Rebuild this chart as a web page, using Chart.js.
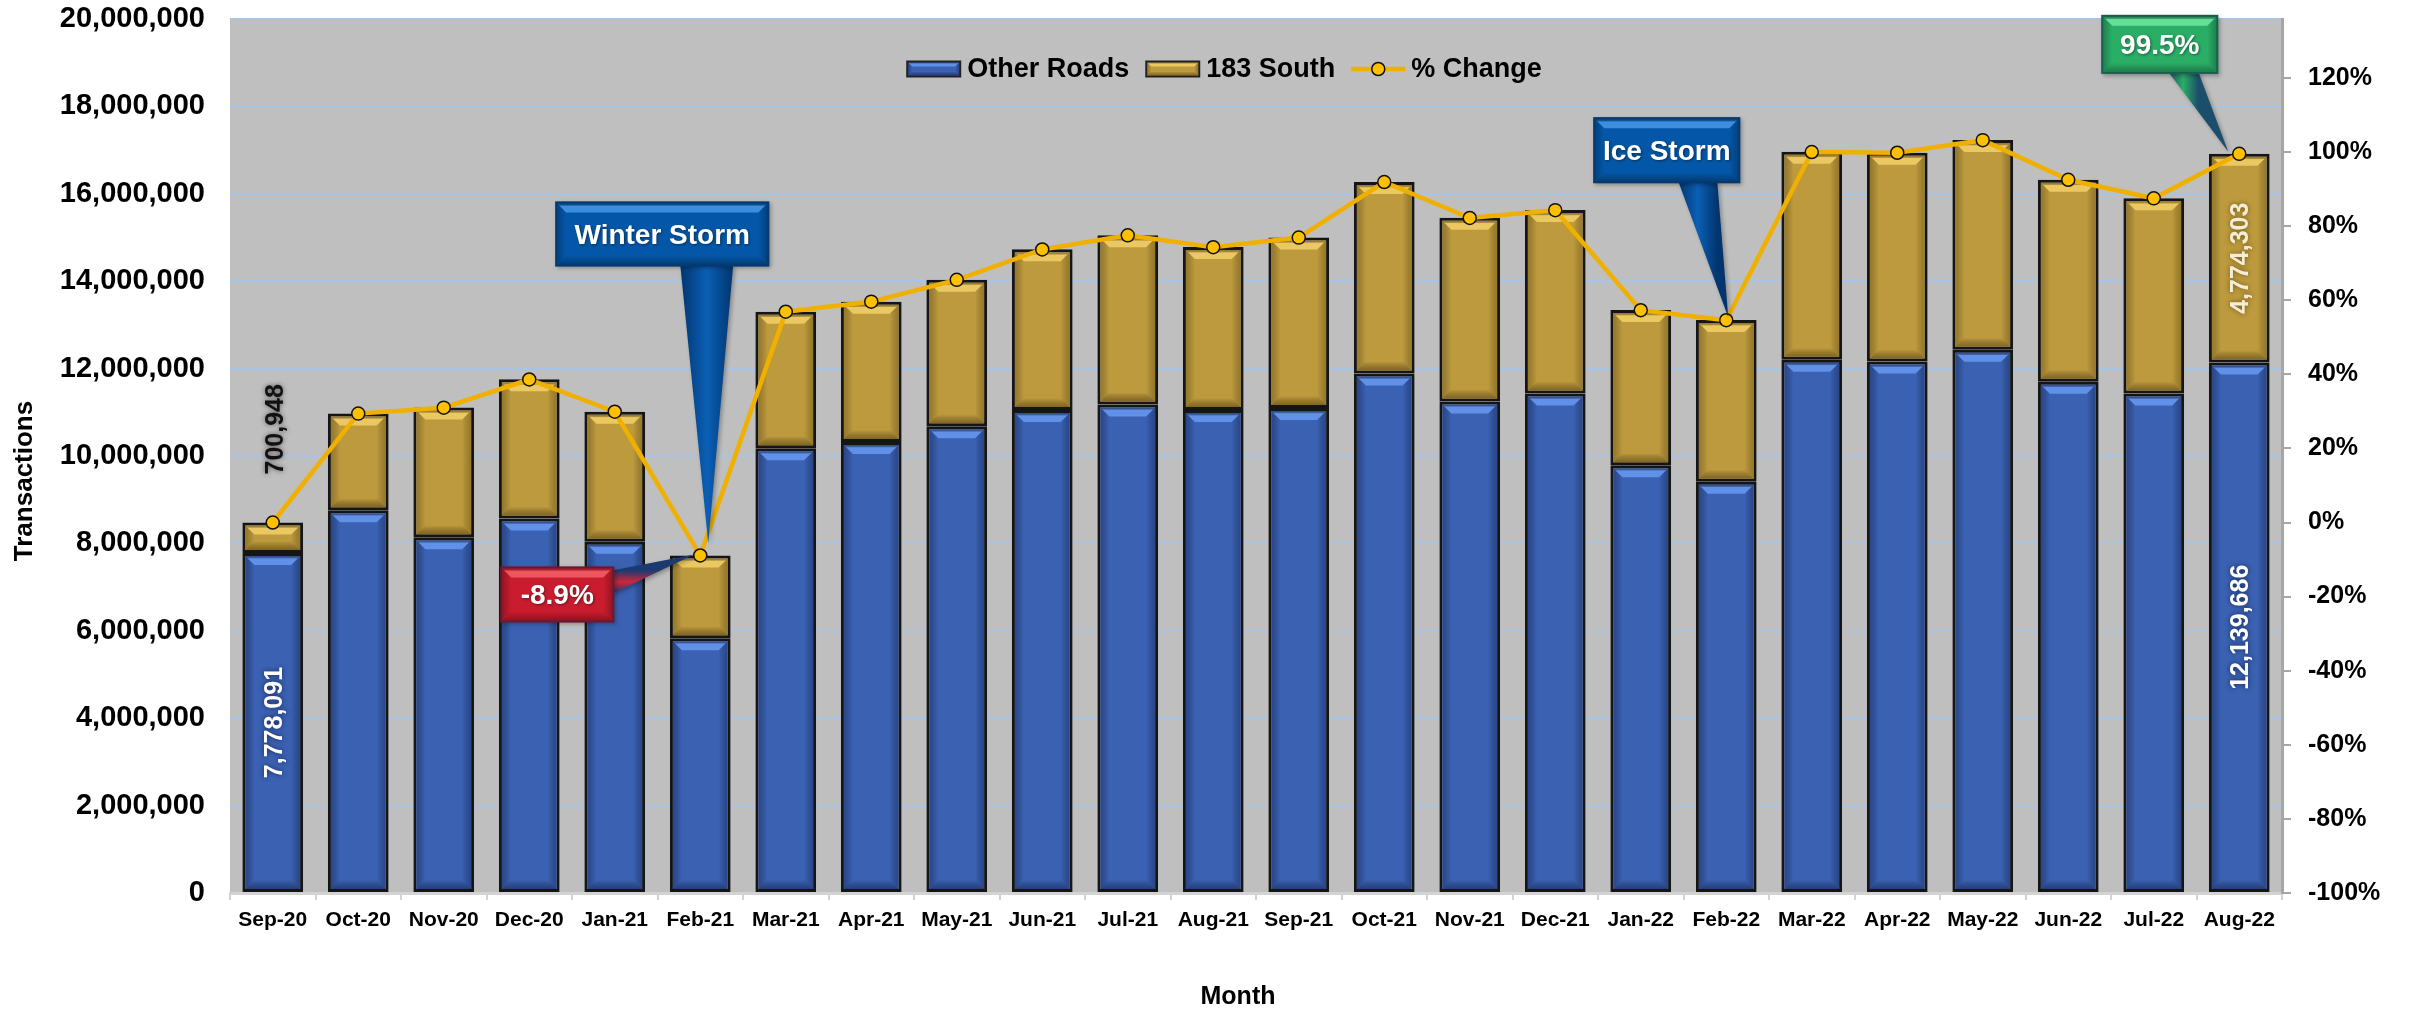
<!DOCTYPE html>
<html>
<head>
<meta charset="utf-8">
<title>Transactions by Month</title>
<script src="https://cdn.jsdelivr.net/npm/chart.js@4.4.1/dist/chart.umd.min.js"></script>
<style>
  html, body { margin:0; padding:0; background:#fff; }
  #wrap { width:2415px; height:1014px; }
</style>
</head>
<body>
<div id="wrap"><canvas id="txChart" width="2415" height="1014"></canvas></div>
<script>
(function(){
  const FONT = "'Liberation Sans', Arial, Helvetica, sans-serif";

  // Monthly data
  const months = ['Sep-20','Oct-20','Nov-20','Dec-20','Jan-21','Feb-21','Mar-21','Apr-21','May-21','Jun-21','Jul-21','Aug-21',
                  'Sep-21','Oct-21','Nov-21','Dec-21','Jan-22','Feb-22','Mar-22','Apr-22','May-22','Jun-22','Jul-22','Aug-22'];
  const otherRoads = [7778091, 8760000, 8140000, 8570000, 8040000, 5830000, 10180000, 10320000, 10680000, 11050000, 11180000, 11050000,
                      11100000, 11890000, 11250000, 11430000, 9790000, 9410000, 12200000, 12160000, 12430000, 11700000, 11430000, 12139686];
  const south183   = [700948, 2215000, 2970000, 3185000, 2970000, 1895000, 3120000, 3210000, 3355000, 3680000, 3870000, 3730000,
                      3900000, 4380000, 4200000, 4200000, 3550000, 3700000, 4760000, 4780000, 4800000, 4620000, 4470000, 4774303];
  const pctChange  = [0, 29.4, 31.0, 38.6, 29.9, -8.9, 56.9, 59.6, 65.5, 73.7, 77.5, 74.3,
                      76.9, 91.9, 82.2, 84.3, 57.3, 54.6, 100.0, 99.8, 103.2, 92.5, 87.5, 99.5];

  // Axis ticks
  const countTicks = [0, 2000000, 4000000, 6000000, 8000000, 10000000, 12000000, 14000000, 16000000, 18000000, 20000000];
  const pctTicks   = [-100, -80, -60, -40, -20, 0, 20, 40, 60, 80, 100, 120];

  // Months whose stacked values get printed on the bars
  const labelledMonths = ['Sep-20', 'Aug-22'];

  const BLUE = '#3A61B2', GOLD = '#BD9A3D', LINE = '#F0B000', DOT = '#FFC000';

  // Callout boxes, offsets are relative to the % change point they point at
  const callouts = [
    { month:'Feb-21', text:'Winter Storm', fill:'#0457A8', hi:'rgba(80,160,240,0.75)', ptr:['#02356F','#0A5FB5'],
      box:[-145,-354,69,-289], base:[-20,-291,33,-291], tip:[8,-12] },
    { month:'Feb-21', text:'-8.9%', fill:'#C91C2E', hi:'rgba(255,110,115,0.7)', ptr:['#1D3A70','#D0243A'],
      box:[-200,11,-86,67], base:[-88,15,-88,38], tip:[-6,-1] },
    { month:'Feb-22', text:'Ice Storm', fill:'#0457A8', hi:'rgba(80,160,240,0.75)', ptr:['#02356F','#0A5FB5'],
      box:[-133,-203,14,-137], base:[-48,-139,-9,-139], tip:[2,-3] },
    { month:'Aug-22', text:'99.5%', fill:'#2AAE66', hi:'rgba(120,240,170,0.75)', ptr:['#1B4E6A','#2AAE66'],
      box:[-138,-139,-21,-80], base:[-71,-82,-41,-82], tip:[-11,-2] }
  ];

  Chart.defaults.font.family = FONT;
  Chart.defaults.color = '#000';

  function quad(ctx, x1,y1,x2,y2,x3,y3,x4,y4){
    ctx.beginPath(); ctx.moveTo(x1,y1); ctx.lineTo(x2,y2); ctx.lineTo(x3,y3); ctx.lineTo(x4,y4); ctx.closePath(); ctx.fill();
  }

  // Raised-edge look for bar segments and boxes
  function bevel(ctx, l, t, r, b, s){
    const d = Math.min(s.depth, (b-t)/2, (r-l)/2);
    if(d <= 0) return;
    ctx.save();
    let g = ctx.createLinearGradient(l,0,l+d,0);
    g.addColorStop(0, s.side); g.addColorStop(1, 'rgba(0,0,0,0)');
    ctx.fillStyle = g; quad(ctx, l,t, l+d,t+d, l+d,b-d, l,b);
    g = ctx.createLinearGradient(r,0,r-d,0);
    g.addColorStop(0, s.side); g.addColorStop(1, 'rgba(0,0,0,0)');
    ctx.fillStyle = g; quad(ctx, r,t, r-d,t+d, r-d,b-d, r,b);
    g = ctx.createLinearGradient(0,b,0,b-d);
    g.addColorStop(0, s.lo); g.addColorStop(1, 'rgba(0,0,0,0)');
    ctx.fillStyle = g; quad(ctx, l,b, l+d,b-d, r-d,b-d, r,b);
    g = ctx.createLinearGradient(0,t,0,t+d);
    g.addColorStop(0, 'rgba(0,0,0,0.15)'); g.addColorStop(0.3, s.hi); g.addColorStop(1, s.hi);
    ctx.fillStyle = g; quad(ctx, l,t, r,t, r-d,t+d, l+d,t+d);
    ctx.restore();
  }

  const bevelPlugin = {
    id:'bevel',
    afterDatasetDraw(chart, args){
      const ds = chart.data.datasets[args.index];
      if(!ds.bevel) return;
      const ctx = chart.ctx, bw = ds.borderWidth;
      args.meta.data.forEach(el=>{
        const p = el.getProps(['x','y','base','width'], true);
        const l = p.x - p.width/2 + bw, r = p.x + p.width/2 - bw;
        const t = Math.min(p.y, p.base) + bw, b = Math.max(p.y, p.base) - bw;
        bevel(ctx, l, t, r, b, ds.bevel);
      });
    }
  };

  const bgPlugin = {
    id:'plotBg',
    beforeDraw(chart){
      const {ctx, chartArea:a} = chart;
      ctx.save();
      ctx.fillStyle = '#BFBFBF';
      ctx.fillRect(a.left, a.top, a.right - a.left, a.bottom - a.top);
      ctx.restore();
    }
  };

  function vText(ctx, text, x, y, color, align, shadow){
    ctx.save();
    ctx.translate(x, y);
    ctx.rotate(-Math.PI/2);
    ctx.font = `bold 25px ${FONT}`;
    ctx.textAlign = align; ctx.textBaseline = 'middle';
    ctx.shadowColor = shadow; ctx.shadowBlur = 5;
    ctx.fillStyle = color;
    ctx.fillText(text, 0, 0);
    ctx.restore();
  }

  function drawCallout(ctx, c, px, py){
    const [bl, bt, br, bb] = c.box;
    const l = px+bl, t = py+bt, r = px+br, b = py+bb;
    ctx.save();
    // pointer
    const bx1 = px+c.base[0], by1 = py+c.base[1], bx2 = px+c.base[2], by2 = py+c.base[3];
    const g = ctx.createLinearGradient(bx1, by1, bx2, by2);
    g.addColorStop(0, c.ptr[0]); g.addColorStop(0.5, c.ptr[1]); g.addColorStop(1, c.ptr[0]);
    ctx.fillStyle = g;
    ctx.shadowColor = 'rgba(0,0,0,0.3)'; ctx.shadowBlur = 4; ctx.shadowOffsetX = 2; ctx.shadowOffsetY = 2;
    ctx.beginPath(); ctx.moveTo(bx1, by1); ctx.lineTo(bx2, by2); ctx.lineTo(px+c.tip[0], py+c.tip[1]); ctx.closePath(); ctx.fill();
    // box
    ctx.fillStyle = c.fill;
    ctx.fillRect(l, t, r-l, b-t);
    ctx.shadowColor = 'transparent';
    ctx.strokeStyle = 'rgba(10,30,60,0.55)'; ctx.lineWidth = 2;
    ctx.strokeRect(l+1, t+1, r-l-2, b-t-2);
    bevel(ctx, l+2, t+2, r-2, b-2, { depth:9, hi:c.hi, lo:'rgba(0,0,0,0.3)', side:'rgba(0,0,0,0.25)' });
    // text
    ctx.font = `bold 28px ${FONT}`;
    ctx.textAlign = 'center'; ctx.textBaseline = 'middle';
    ctx.shadowColor = 'rgba(0,0,0,0.45)'; ctx.shadowBlur = 3; ctx.shadowOffsetX = 1; ctx.shadowOffsetY = 1;
    ctx.fillStyle = '#fff';
    ctx.fillText(c.text, (l+r)/2, (t+b)/2 + 2);
    ctx.restore();
  }

  function drawLegend(chart){
    const {ctx, chartArea:a} = chart;
    const y = 69, boxW = 55, boxH = 17, gap = 6, itemGap = 16, lineW = 54;
    const items = [
      { text:chart.data.datasets[0].label, kind:'box', fill:BLUE, bev:chart.data.datasets[0].bevel },
      { text:chart.data.datasets[1].label, kind:'box', fill:GOLD, bev:chart.data.datasets[1].bevel },
      { text:chart.data.datasets[2].label, kind:'line' }
    ];
    ctx.save();
    ctx.font = `bold 27px ${FONT}`;
    let total = 0;
    items.forEach((it,i)=>{ it.w = (it.kind==='box'?boxW:lineW) + gap + ctx.measureText(it.text).width; total += it.w + (i?itemGap:0); });
    let x = (a.left + a.right)/2 - 32 - total/2;
    items.forEach(it=>{
      if(it.kind==='box'){
        ctx.fillStyle = '#222';
        ctx.fillRect(x, y-boxH/2, boxW, boxH);
        ctx.fillStyle = it.fill;
        ctx.fillRect(x+2, y-boxH/2+2, boxW-4, boxH-4);
        bevel(ctx, x+2, y-boxH/2+2, x+boxW-2, y+boxH/2-2, { ...it.bev, depth:4 });
        x += boxW + gap;
      } else {
        ctx.strokeStyle = LINE; ctx.lineWidth = 4.5;
        ctx.beginPath(); ctx.moveTo(x, y); ctx.lineTo(x+lineW, y); ctx.stroke();
        ctx.fillStyle = DOT; ctx.strokeStyle = '#111'; ctx.lineWidth = 1.5;
        ctx.beginPath(); ctx.arc(x+lineW/2, y, 6.5, 0, Math.PI*2); ctx.fill(); ctx.stroke();
        x += lineW + gap;
      }
      ctx.fillStyle = '#000';
      ctx.textAlign = 'left'; ctx.textBaseline = 'middle';
      ctx.fillText(it.text, x, y+1);
      x += ctx.measureText(it.text).width + itemGap;
    });
    ctx.restore();
  }

  const overlayPlugin = {
    id:'overlay',
    afterDatasetsDraw(chart){
      const ctx = chart.ctx;
      const mOther = chart.getDatasetMeta(0), mSouth = chart.getDatasetMeta(1), mPct = chart.getDatasetMeta(2);
      const fmt = v => v.toLocaleString('en-US');

      // stacked values on selected months
      labelledMonths.forEach(m=>{
        const i = months.indexOf(m);
        const eo = mOther.data[i], es = mSouth.data[i];
        vText(ctx, fmt(otherRoads[i]), eo.x + 2, (eo.y + eo.base)/2, '#fff', 'center', 'rgba(0,0,30,0.6)');
        const segH = es.base - es.y;
        if(segH > 140){
          vText(ctx, fmt(south183[i]), es.x + 2, (es.y + es.base)/2, '#F4EDD6', 'center', 'rgba(60,40,0,0.6)');
        } else {
          vText(ctx, fmt(south183[i]), es.x + 3, es.y - 48, '#111', 'left', 'rgba(0,0,0,0.55)');
        }
      });

      drawLegend(chart);

      callouts.forEach(c=>{
        const p = mPct.data[months.indexOf(c.month)];
        drawCallout(ctx, c, p.x, p.y);
      });
    },
    afterDraw(chart){
      const {ctx, chartArea:a} = chart;
      ctx.save();
      ctx.fillStyle = '#000';
      ctx.font = `bold 26px ${FONT}`;
      ctx.textAlign = 'center'; ctx.textBaseline = 'middle';
      ctx.translate(25, 481); ctx.rotate(-Math.PI/2);
      ctx.fillText('Transactions', 0, 0);
      ctx.restore();
      ctx.save();
      ctx.fillStyle = '#000';
      ctx.font = `bold 25px ${FONT}`;
      ctx.textAlign = 'center'; ctx.textBaseline = 'middle';
      ctx.fillText('Month', (a.left + a.right)/2 - 18, 997);
      ctx.restore();
    }
  };

  // keep the plot frame fixed: no extra room for half-height edge labels
  const noEdgePad = s => { s.paddingTop = 0; s.paddingBottom = 0; s.paddingLeft = 0; s.paddingRight = 0; };

  const chart = new Chart(document.getElementById('txChart'), {
    type:'bar',
    data:{
      labels: months,
      datasets:[
        { label:'Other Roads', data: otherRoads, backgroundColor: BLUE, borderColor:'#151515', borderWidth:3, borderSkipped:false,
          stack:'tx', yAxisID:'y', order:2, barPercentage:0.71, categoryPercentage:1,
          bevel:{ depth:9, hi:'rgba(110,160,250,0.75)', lo:'rgba(10,20,60,0.45)', side:'rgba(10,20,60,0.35)' } },
        { label:'183 South', data: south183, backgroundColor: GOLD, borderColor:'#151515', borderWidth:3, borderSkipped:false,
          stack:'tx', yAxisID:'y', order:2, barPercentage:0.71, categoryPercentage:1,
          bevel:{ depth:9, hi:'rgba(250,215,110,0.75)', lo:'rgba(60,40,0,0.45)', side:'rgba(60,40,0,0.3)' } },
        { type:'line', label:'% Change', data: pctChange, yAxisID:'y1', order:1,
          borderColor: LINE, borderWidth:4.5, tension:0,
          pointRadius:6.5, pointBackgroundColor: DOT, pointBorderColor:'#111', pointBorderWidth:1.5 }
      ]
    },
    options:{
      responsive:false,
      animation:false,
      devicePixelRatio:1,
      layout:{ padding:{ top:19, left:0, right:0, bottom:0 } },
      plugins:{ legend:{ display:false }, tooltip:{ enabled:false } },
      scales:{
        x:{
          stacked:true,
          grid:{ offset:true, drawOnChartArea:false, drawTicks:true, tickLength:7, color:'#D3D3D3', lineWidth:2 },
          border:{ display:true, color:'#D3D3D3', width:3 },
          ticks:{ autoSkip:false, maxRotation:0, font:{ size:21, weight:'bold' }, color:'#000', padding:8 },
          afterFit: s => { s.height = 121; noEdgePad(s); }
        },
        y:{
          stacked:true, position:'left', min:0, max:20000000,
          afterBuildTicks: s => { s.ticks = countTicks.map(v=>({ value:v })); },
          ticks:{ font:{ size:29, weight:'bold' }, color:'#000', padding:25, callback: v => v.toLocaleString('en-US') },
          grid:{ color:'#A9C4E2', lineWidth:2, drawTicks:false },
          border:{ display:false },
          afterFit: s => { s.width = 230; noEdgePad(s); }
        },
        y1:{
          position:'right', min:-100, max:135.9,
          afterBuildTicks: s => { s.ticks = pctTicks.map(v=>({ value:v })); },
          ticks:{ font:{ size:25, weight:'bold' }, color:'#000', padding:17, callback: v => v + '%' },
          grid:{ drawOnChartArea:false, drawTicks:true, tickLength:9, color:'#A6A6A6', lineWidth:2 },
          border:{ display:true, color:'#A6A6A6', width:3 },
          afterFit: s => { s.width = 133; noEdgePad(s); }
        }
      }
    },
    plugins:[bgPlugin, bevelPlugin, overlayPlugin]
  });
})();
</script>
</body>
</html>
